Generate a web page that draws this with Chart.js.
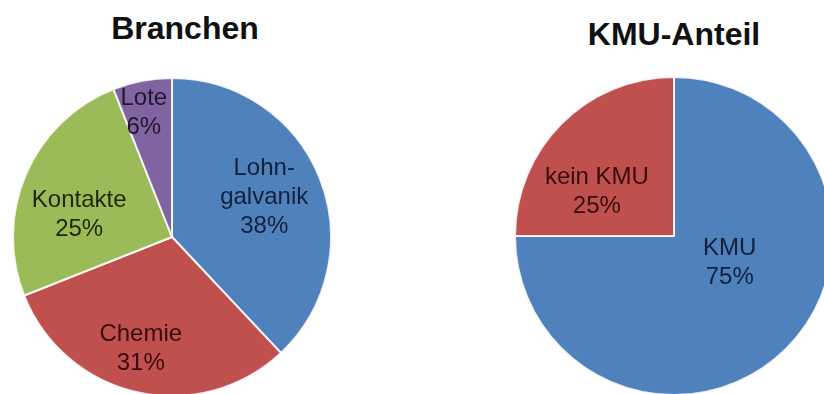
<!DOCTYPE html>
<html>
<head>
<meta charset="utf-8">
<script src="https://cdn.jsdelivr.net/npm/chart.js@4"></script>
<style>
  html, body { margin: 0; padding: 0; background: #fff; overflow: hidden; width: 824px; height: 394px; }
  .title { position: absolute; width: 400px; text-align: center; font: bold 32px 'Liberation Sans', Arial, sans-serif; line-height: 32px; color: #111; }
  .pie { position: absolute; width: 320px; height: 320px; }
</style>
</head>
<body>
<div class="title" style="left:-15px; top:12px">Branchen</div>
<div class="title" style="left:474px; top:18px">KMU-Anteil</div>
<div class="pie" style="left:12px; top:77px"><canvas id="branchen-chart"></canvas></div>
<div class="pie" style="left:514px; top:76px"><canvas id="kmu-chart"></canvas></div>
<script>
const branchenLabels = [['Lohn-', 'galvanik'], 'Chemie', 'Kontakte', 'Lote'];
const branchenValues = [38, 31, 25, 6];
const branchenColors = ['#4F81BD', '#C0504D', '#9BBB59', '#8064A2'];
const branchenTextColors = ['#13203a', '#380c0b', '#1a280a', '#201731'];

const kmuLabels = ['KMU', 'kein KMU'];
const kmuValues = [75, 25];
const kmuColors = ['#4F81BD', '#C0504D'];
const kmuTextColors = ['#13203a', '#380c0b'];

// Writes "name / xx%" inside each slice; anchors = [radius fraction, angle shift in degrees]
const sliceLabels = {
    id: 'sliceLabels',
    afterDatasetsDraw(chart, args, opts) {
        const ctx = chart.ctx;
        const meta = chart.getDatasetMeta(0);
        const values = chart.data.datasets[0].data;
        const total = values.reduce((a, b) => a + b, 0);
        ctx.save();
        ctx.font = opts.font;
        ctx.textAlign = 'center';
        ctx.textBaseline = 'middle';
        meta.data.forEach((arc, i) => {
            const p = arc.getProps(['x', 'y', 'startAngle', 'endAngle', 'outerRadius'], true);
            const [frac, shift] = opts.anchors[i];
            const mid = (p.startAngle + p.endAngle) / 2 + shift * Math.PI / 180;
            const cx = p.x + Math.cos(mid) * p.outerRadius * frac;
            const cy = p.y + Math.sin(mid) * p.outerRadius * frac;
            const lines = [].concat(chart.data.labels[i], Math.round(values[i] / total * 100) + '%');
            ctx.fillStyle = opts.colors[i];
            lines.forEach((line, j) => {
                ctx.fillText(line, cx, cy + (j - (lines.length - 1) / 2) * opts.lineHeight);
            });
        });
        ctx.restore();
    }
};

function createPie(id, labels, values, colors, textColors, anchors) {
    const ctx = document.getElementById(id).getContext('2d');
    return new Chart(ctx, {
        type: 'pie',
        data: {
            labels: labels,
            datasets: [{
                data: values,
                backgroundColor: colors,
                borderColor: 'rgba(255,255,255,0.85)',
                borderWidth: 2
            }]
        },
        options: {
            responsive: true,
            maintainAspectRatio: false,
            animation: false,
            layout: { padding: 0 },
            plugins: {
                legend: { display: false },
                tooltip: { enabled: false },
                sliceLabels: {
                    font: '24px "Liberation Sans", Arial, sans-serif',
                    lineHeight: 29,
                    colors: textColors,
                    anchors: anchors
                }
            }
        },
        plugins: [sliceLabels]
    });
}

createPie('branchen-chart', branchenLabels, branchenValues, branchenColors, branchenTextColors,
    [[0.63, -1.4], [0.73, 3], [0.6, -10], [0.8, -2]]);
createPie('kmu-chart', kmuLabels, kmuValues, kmuColors, kmuTextColors,
    [[0.39, -19], [0.56, -15]]);
</script>
</body>
</html>
